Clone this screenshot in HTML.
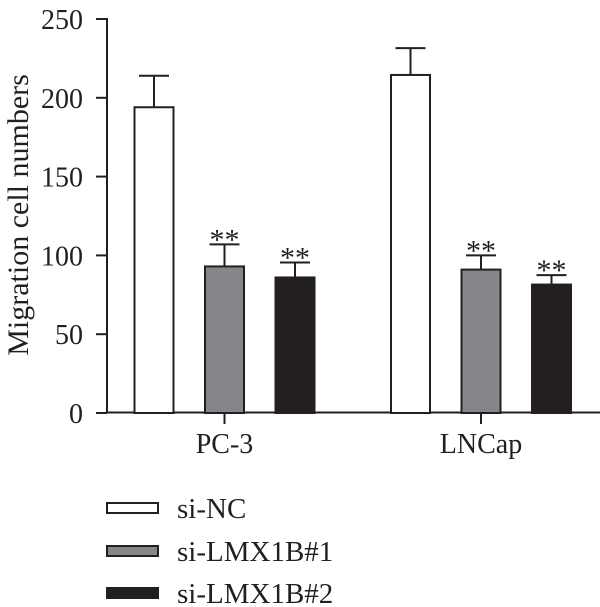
<!DOCTYPE html>
<html><head><style>body{margin:0;background:#fff}svg{display:block;font-family:"Liberation Serif",serif}</style></head>
<body>
<svg id="chart" width="600" height="607" xmlns="http://www.w3.org/2000/svg"></svg>
<script>
const groups = ["PC-3", "LNCap"];
const seriesNames = ["si-NC", "si-LMX1B#1", "si-LMX1B#2"];
const ncValues = [194, 214.5];
const lmx1Values = [93, 91];
const lmx2Values = [86, 81.5];
const ncErr = [20, 17];
const lmx1Err = [14, 9];
const lmx2Err = [9.5, 6];
const sigLabels = [["", "**", "**"], ["", "**", "**"]];
const yTicks = [0, 50, 100, 150, 200, 250];

const svg = document.getElementById('chart');
const NS = 'http://www.w3.org/2000/svg';
const fills = ["#ffffff", "#858689", "#231f20"];
const y0 = 413, yTop = 19, yMax = 250;
const y = v => y0 - (v / yMax) * (y0 - yTop);
const groupX = [224.5, 481];
const off = [-70.5, 0, 70.5], bw = 39;
function mk(tag, attrs, name) {
  const e = document.createElementNS(NS, tag);
  for (const k in attrs) e.setAttribute(k, attrs[k]);
  
  
  svg.appendChild(e); return e;
}
mk('line', {x1:107,y1:18,x2:107,y2:413,stroke:'#231f20','stroke-width':2}, 'y-axis');
mk('line', {x1:106,y1:412.5,x2:600,y2:412.5,stroke:'#231f20','stroke-width':2}, 'x-axis');
yTicks.forEach(t => {
  mk('line', {x1:96,y1:y(t),x2:107,y2:y(t),stroke:'#231f20','stroke-width':2}, 'y-tick');
  const tx = mk('text', {x:83,y:y(t)+10,'text-anchor':'end','font-size':28,fill:'#231f20'}, 'y-tick-label');
  tx.textContent = t;
});
const t = mk('text', {x:0,y:0,transform:'translate(28,215) rotate(-90)','text-anchor':'middle','font-size':30,fill:'#231f20'}, 'y-axis-title');
t.textContent = 'Migration cell numbers';
const vals = [ncValues, lmx1Values, lmx2Values], errs = [ncErr, lmx1Err, lmx2Err];
groups.forEach((g, gi) => {
  mk('line', {x1:groupX[gi],y1:413,x2:groupX[gi],y2:424,stroke:'#231f20','stroke-width':2}, 'x-tick');
  const lab = mk('text', {x:groupX[gi],y:453,'text-anchor':'middle','font-size':28,fill:'#231f20'}, 'x-tick-label');
  lab.textContent = g;
  vals.forEach((arr, si) => {
    const cx = groupX[gi] + off[si], top = y(arr[gi]), et = y(arr[gi] + errs[si][gi]);
    mk('line', {x1:cx,y1:et,x2:cx,y2:top,stroke:'#231f20','stroke-width':2}, 'error-bar');
    mk('line', {x1:cx-15,y1:et,x2:cx+15,y2:et,stroke:'#231f20','stroke-width':2}, 'error-cap');
    mk('rect', {x:cx-bw/2,y:top,width:bw,height:y0-top,fill:fills[si],stroke:'#231f20','stroke-width':2}, 'bar-' + g.toLowerCase() + '-' + si);
    if (sigLabels[gi][si]) {
      const s = mk('text', {x:cx,y:et+5,'text-anchor':'middle','font-size':30,fill:'#231f20'}, 'significance-label');
      s.textContent = sigLabels[gi][si];
    }
  });
});
const ly = [508, 551, 593];
seriesNames.forEach((n, i) => {
  mk('rect', {x:107,y:ly[i]-5,width:51,height:10,fill:fills[i],stroke:'#231f20','stroke-width':2}, 'legend-swatch');
  const tx = mk('text', {x:177,y:ly[i]+10,'font-size':29,fill:'#231f20'}, 'legend-entry');
  tx.textContent = n;
});
</script>
</body></html>
